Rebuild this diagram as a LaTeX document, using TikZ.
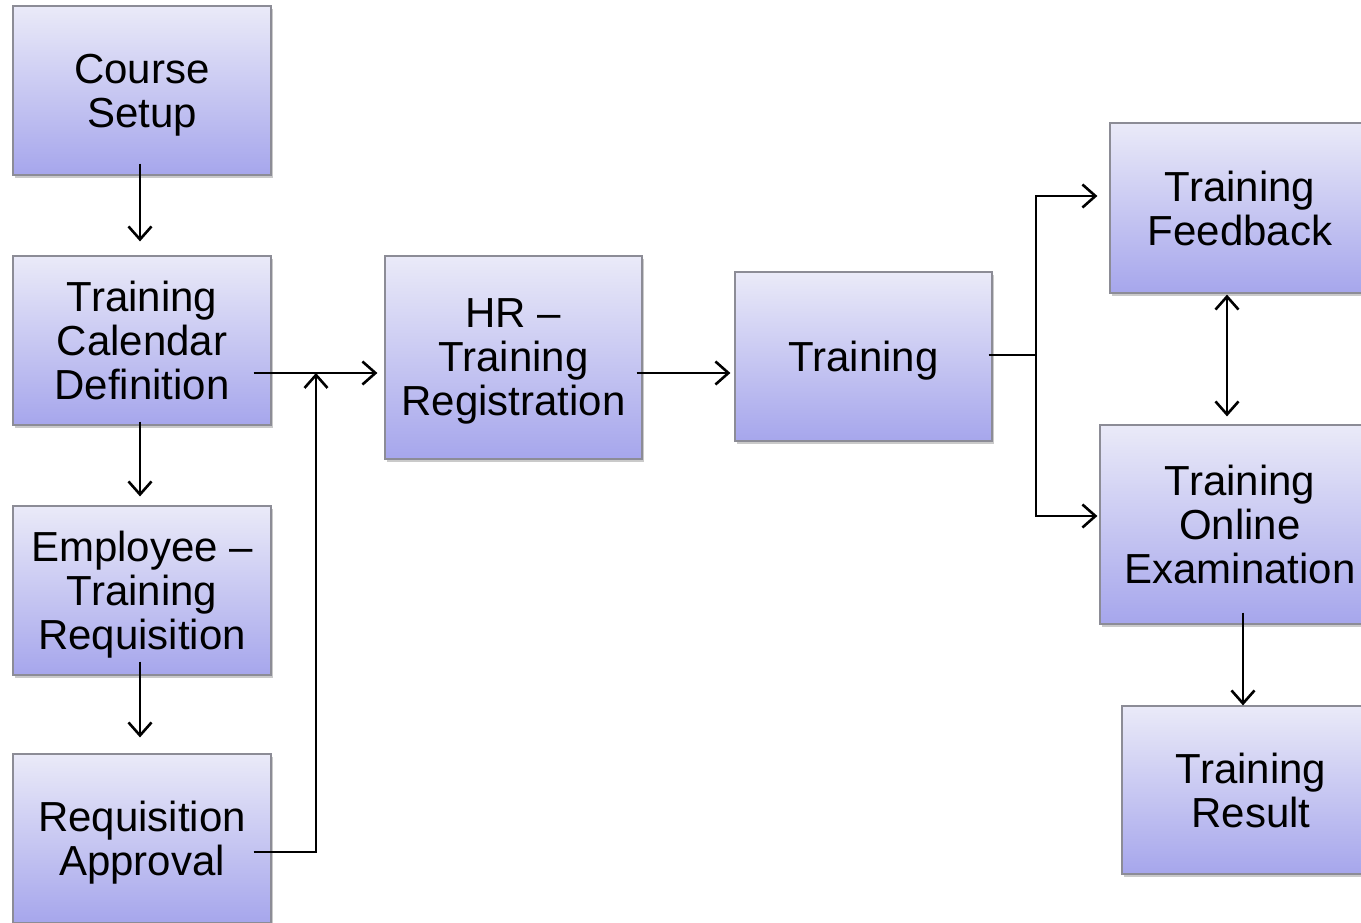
\documentclass[tikz,border=0pt]{standalone}
\usepackage{fontspec}
\setmainfont{Liberation Sans}
\usetikzlibrary{arrows.meta,shadows}
\definecolor{boxtop}{RGB}{234,234,248}
\definecolor{boxbot}{RGB}{166,166,236}
\definecolor{boxline}{RGB}{140,140,150}
\tikzset{
  stage/.style 2 args={draw=boxline, line width=1.2pt, rectangle,
    top color=boxtop, bottom color=boxbot,
    minimum width=#1, minimum height=#2, inner sep=0pt, align=center,
    text depth=0pt,
    font=\fontsize{42}{44}\selectfont,
    drop shadow={shadow xshift=2pt, shadow yshift=-3pt, opacity=0.35, fill=black!60}},
  link/.style={draw=black, line width=2.8pt, -{Straight Barb[length=13pt,width=23pt,line width=2.6pt]}},
  biway/.style={draw=black, line width=2.8pt, {Straight Barb[length=13pt,width=23pt,line width=2.6pt]}-{Straight Barb[length=13pt,width=23pt,line width=2.6pt]}},
  plain/.style={draw=black, line width=2.8pt}
}
\begin{document}
\begin{tikzpicture}[x=1pt,y=-1pt]
\useasboundingbox (0,0) rectangle (1361,923);
\clip (0,0) rectangle (1361,923);

% left column
\node[stage={258pt}{169pt}] (cs)  at (142,90.5)  {Course\\Setup};
\node[stage={258pt}{169pt}] (cal) at (142,340.5) {Training\\Calendar\\Definition};
\node[stage={258pt}{169pt}] (emp) at (142,590.5) {Employee –\\Training\\Requisition};
\node[stage={258pt}{169pt}] (ap)  at (142,838.5) {Requisition\\Approval};

% middle
\node[stage={257pt}{203pt}] (hr)  at (513.5,357.5) {HR –\\Training\\Registration};
\node[stage={257pt}{169pt}] (tr)  at (863.5,356.5) {Training};

% right column
\node[stage={260pt}{170pt}] (fb)  at (1240,208)   {Training\\Feedback};
\node[stage={280pt}{199pt}] (ex)  at (1240,524.5) {Training\\Online\\Examination};
\node[stage={258pt}{168pt}] (res) at (1251,790)   {Training\\Result};

% junctions
\coordinate (merge) at (316,373);
\coordinate (split) at (1036,355);

% vertical chain on the left
\draw[link] ([shift={(-2pt,12pt)}]cs.south)  -- ([shift={(-2pt,14pt)}]cal.north);
\draw[link] ([shift={(-2pt,4pt)}]cal.south)  -- ([shift={(-2pt,9pt)}]emp.north);
\draw[link] ([shift={(-2pt,14pt)}]emp.south) -- ([shift={(-2pt,16pt)}]ap.north);

% into registration
\draw[link] ([shift={(-18pt,-32.5pt)}]cal.east) -- ([shift={(-7pt,-15.5pt)}]hr.west);
\draw[plain] ([shift={(-18pt,-13.5pt)}]ap.east) -| ([yshift=-1pt]merge);
\draw[link] ([yshift=-479pt]merge) -- (merge);

% registration to training
\draw[link] ([shift={(-6pt,-15.5pt)}]hr.east) -- ([shift={(-4pt,-16.5pt)}]tr.west);

% training branches
\draw[plain] ([shift={(-4pt,1.5pt)}]tr.east) -- (split);
\draw[link] (split) |- ([shift={(-12pt,12pt)}]fb.west);
\draw[link] (split) |- ([shift={(-2pt,8.5pt)}]ex.west);

% feedback / examination / result
\draw[biway] ([shift={(-13pt,-1pt)}]fb.south) -- ([shift={(-13pt,8pt)}]ex.north);
\draw[link] ([shift={(3pt,12pt)}]ex.south) -- ([xshift=-8pt]res.north);
\end{tikzpicture}
\end{document}
